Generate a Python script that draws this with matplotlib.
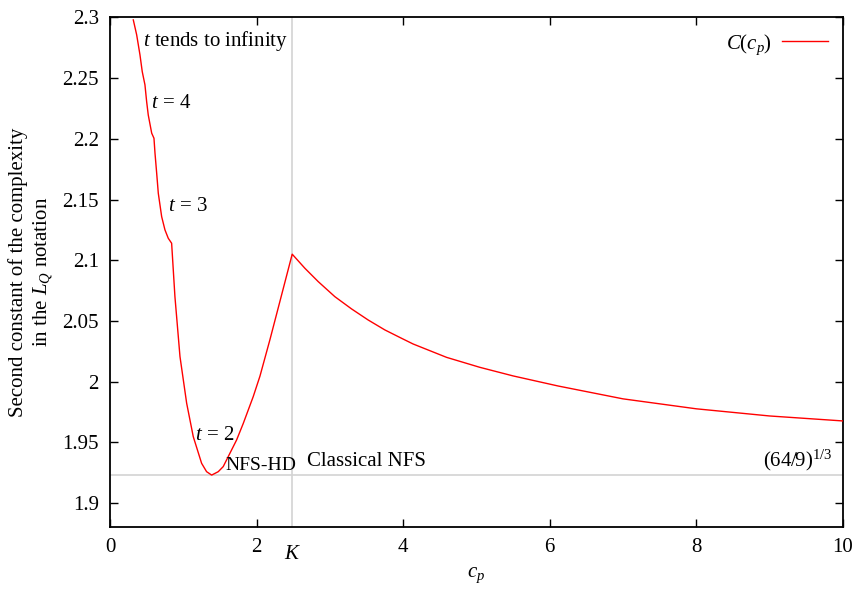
import numpy as np
import matplotlib
matplotlib.use("Agg")
import matplotlib.pyplot as plt

plt.rcParams["font.family"] = ["Liberation Serif", "DejaVu Serif"]
plt.rcParams["mathtext.fontset"] = "custom"
plt.rcParams["mathtext.rm"] = "Liberation Serif"
plt.rcParams["mathtext.it"] = "Liberation Serif:italic"
plt.rcParams["font.size"] = 15

# values
cp = [0.318, 0.364, 0.409, 0.440, 0.477, 0.500, 0.522, 0.569, 0.600, 0.614,
      0.637, 0.659, 0.705, 0.750, 0.795, 0.841, 0.855, 0.886, 0.955, 1.046,
      1.136, 1.250, 1.318, 1.387, 1.477, 1.545, 1.728, 1.818, 1.954, 2.046,
      2.182, 2.318, 2.486, 2.659, 2.841, 3.068, 3.296, 3.522, 3.750, 3.978,
      4.136, 4.592, 5.045, 5.500, 6.114, 7.0, 8.0, 9.0, 10.0]
C = [2.298, 2.2857, 2.2692, 2.2554, 2.2445, 2.2307, 2.2197, 2.2047, 2.2005, 2.1882,
     2.1717, 2.1552, 2.1359, 2.125, 2.1181, 2.114, 2.1003, 2.070, 2.0206, 1.9822,
     1.9547, 1.9327, 1.9258, 1.9230, 1.9258, 1.930, 1.952, 1.9655, 1.9876, 2.0045,
     2.0345, 2.066, 2.105, 2.0934, 2.0824, 2.070, 2.0599, 2.0508, 2.0426, 2.0357,
     2.031, 2.020, 2.0118, 2.0047, 1.9964, 1.9858, 1.9776, 1.9717, 1.9676]

K = 2.486
limit = (64 / 9) ** (1 / 3)
xticks = [0, 2, 4, 6, 8, 10]
yticks = [1.9, 1.95, 2.0, 2.05, 2.1, 2.15, 2.2, 2.25, 2.3]
ytick_labels = ["1.9", "1.95", "2", "2.05", "2.1", "2.15", "2.2", "2.25", "2.3"]

fig = plt.figure(figsize=(8.54, 5.89), dpi=100)
ax = fig.add_axes([0.1288, 0.1048, 0.8582, 0.8655])

ax.axvline(K, color="#d3d3d3", lw=1.2, zorder=1)
ax.axhline(limit, color="#d3d3d3", lw=1.2, zorder=1)
ax.plot(cp, C, color="red", lw=1.0, label="$C(c_p)$", zorder=3)

ax.set_xlim(0, 10)
ax.set_ylim(1.88, 2.3)
ax.set_xticks(xticks)
ax.set_yticks(yticks)
ax.set_yticklabels(ytick_labels)
ax.tick_params(direction="in", length=6, width=1, top=True, right=True, pad=8)
for s in ax.spines.values():
    s.set_linewidth(1.3)

ax.text(K, -0.035, "$K$", transform=ax.get_xaxis_transform(), ha="center", va="top")

ax.set_xlabel("$c_p$", labelpad=6)
ax.set_ylabel("Second constant of the complexity\nin the $L_Q$ notation", labelpad=5)

ax.text(0.45, 2.281, "$t$ tends to infinity", va="center")
ax.text(0.559, 2.2288, "$t$ = 4", va="center")
ax.text(0.795, 2.1442, "$t$ = 3", va="center")
ax.text(1.159, 1.956, "$t$ = 2", va="center")
ax.text(1.568, 1.9313, "NFS-HD", va="center", fontsize=14)
ax.text(2.682, 1.934, "Classical NFS", va="center")
ax.text(9.864, 1.9355, "$(64/9)^{1/3}$", va="center", ha="right")

ax.legend(loc="upper right", frameon=False, handlelength=2.2, markerfirst=False,
          borderaxespad=0.3, handletextpad=0.5)

fig.savefig("out.png", dpi=100)
